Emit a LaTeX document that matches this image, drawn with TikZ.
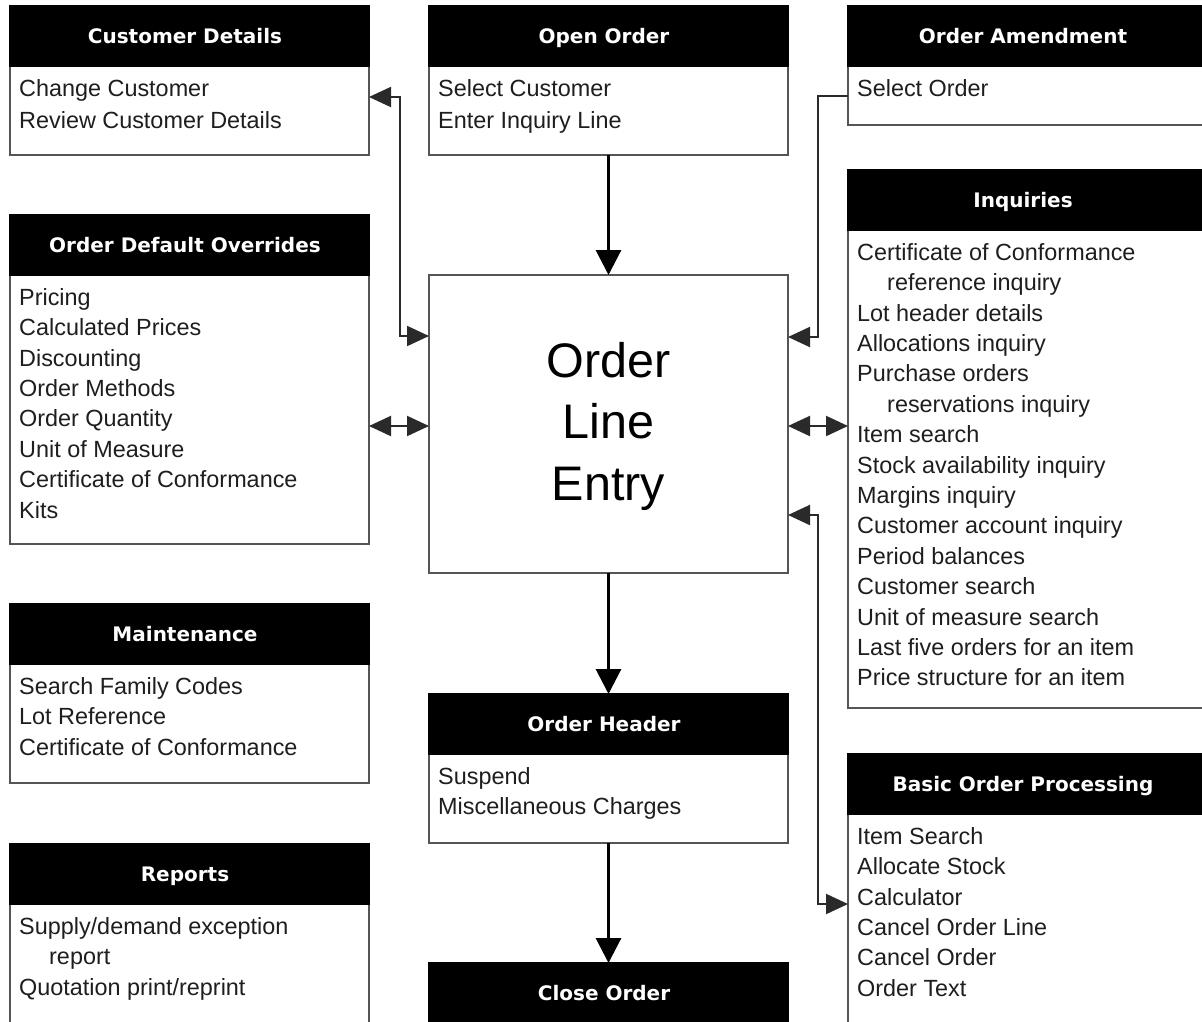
\documentclass[tikz,border=0pt]{standalone}
\usepackage{fontspec}
\setmainfont{Liberation Sans}
\newfontfamily\hdrfam{DejaVu Sans}
\usetikzlibrary{arrows.meta,calc}
\definecolor{bordergray}{HTML}{555555}
\definecolor{textgray}{HTML}{1E1E1E}
\definecolor{linegray}{HTML}{2A2A2A}
\newcommand\hdrtext{\hdrfam\bfseries\fontsize{20}{22}\selectfont}
\newcommand\itemtext{\fontsize{23.4}{30.4}\selectfont}
\newcommand\bigtext{\fontsize{48.5}{61.5}\selectfont}
\newcommand\fl{\rule{0pt}{17pt}}
\newcommand\ind{\hspace*{30pt}}
\begin{document}
\begin{tikzpicture}[x=1pt,y=-1pt,
 boxbody/.style={draw=bordergray, line width=2pt, minimum width=359pt, anchor=north west, inner sep=0pt, outer sep=0pt, fill=white},
 hdr/.style={fill=black, draw=black, line width=2pt, minimum width=359pt, minimum height=60pt, anchor=north, text=white, font=\hdrtext, inner sep=0pt, outer sep=0pt, text height=17pt, text depth=2pt, execute at end node={\hspace*{9pt}}},
 items/.style={anchor=north west, align=left, inner sep=0pt, font=\itemtext, text=textgray},
 conn/.style={draw=linegray, line width=2pt},
 oneway/.style={-{Triangle[length=22pt,width=20pt]}},
 twoway/.style={{Triangle[length=22pt,width=20pt]}-{Triangle[length=22pt,width=20pt]}},
 flow/.style={draw=black, line width=3pt, -{Triangle[length=25pt,width=25pt]}},
]
\useasboundingbox (0,0) rectangle (1202,1021);
\clip (0,0) rectangle (1202,1021);
\fill[white] (0,0) rectangle (1202,1021);

% left column
\node[boxbody, minimum height=149pt] (cust) at (10,6) {};
\node[hdr] (cust-h) at (cust.north) {Customer Details};
\node[items] (cust-t) at ($(cust.north west)+(9,73)$) {\fl Change Customer\\[1.5pt]Review Customer Details};

\node[boxbody, minimum height=329pt] (odo) at (10,215) {};
\node[hdr] (odo-h) at (odo.north) {Order Default Overrides};
\node[items] (odo-t) at ($(odo.north west)+(9,73)$) {\fl Pricing\\Calculated Prices\\Discounting\\Order Methods\\Order Quantity\\Unit of Measure\\Certificate of Conformance\\Kits};

\node[boxbody, minimum height=179pt] (maint) at (10,604) {};
\node[hdr] (maint-h) at (maint.north) {Maintenance};
\node[items] (maint-t) at ($(maint.north west)+(9,73)$) {\fl Search Family Codes\\Lot Reference\\Certificate of Conformance};

\node[boxbody, minimum height=200pt] (rep) at (10,844) {};
\node[hdr] (rep-h) at (rep.north) {Reports};
\node[items] (rep-t) at ($(rep.north west)+(9,73)$) {\fl Supply/demand exception\\\ind report\\Quotation print/reprint};

% middle column
\node[boxbody, minimum height=149pt] (open) at (429,6) {};
\node[hdr] (open-h) at (open.north) {Open Order};
\node[items] (open-t) at ($(open.north west)+(9,73)$) {\fl Select Customer\\[1.5pt]Enter Inquiry Line};

\node[boxbody, minimum height=298pt, align=center, font=\bigtext, text=black] (ole) at (429,275) {\rule{0pt}{40pt}Order\\Line\\Entry};

\node[boxbody, minimum height=149pt] (ohdr) at (429,694) {};
\node[hdr] (ohdr-h) at (ohdr.north) {Order Header};
\node[items] (ohdr-t) at ($(ohdr.north west)+(9,73)$) {\fl Suspend\\Miscellaneous Charges};

\node[boxbody, minimum height=80pt] (close) at (429,963) {};
\node[hdr] (close-h) at (close.north) {Close Order};

% right column
\node[boxbody, minimum height=119pt] (amend) at (848,6) {};
\node[hdr] (amend-h) at (amend.north) {Order Amendment};
\node[items] (amend-t) at ($(amend.north west)+(9,73)$) {\fl Select Order};

\node[boxbody, minimum height=538pt] (inq) at (848,170) {};
\node[hdr] (inq-h) at (inq.north) {Inquiries};
\node[items] (inq-t) at ($(inq.north west)+(9,73)$) {\fl Certificate of Conformance\\\ind reference inquiry\\Lot header details\\Allocations inquiry\\Purchase orders\\\ind reservations inquiry\\Item search\\Stock availability inquiry\\Margins inquiry\\Customer account inquiry\\Period balances\\Customer search\\Unit of measure search\\Last five orders for an item\\Price structure for an item};

\node[boxbody, minimum height=300pt] (bop) at (848,754) {};
\node[hdr] (bop-h) at (bop.north) {Basic Order Processing};
\node[items] (bop-t) at ($(bop.north west)+(9,73)$) {\fl Item Search\\Allocate Stock\\Calculator\\Cancel Order Line\\Cancel Order\\Order Text};

% connectors
\draw[flow] (open.south) -- (ole.north);
\draw[flow] (ole.south) -- (ohdr.north);
\draw[flow] (ohdr.south) -- (close.north);

\coordinate (c1) at ($(cust.north east)+(0,91)$);
\coordinate (c2) at ($(ole.north west)+(0,61)$);
\draw[conn, twoway] (c1) -- ++(31,0) |- (c2);

\coordinate (l1) at ($(ole.west)+(0,2)$);
\draw[conn, twoway] (odo.east |- l1) -- (l1);

\coordinate (a1) at ($(amend.north west)+(0,90)$);
\coordinate (a2) at ($(ole.north east)+(0,62)$);
\draw[conn, oneway] (a1) -- ++(-30,0) |- (a2);

\coordinate (r1) at ($(ole.east)+(0,2)$);
\draw[conn, twoway] (r1) -- (inq.west |- r1);

\coordinate (b1) at ($(ole.north east)+(0,240)$);
\coordinate (b2) at ($(bop.north west)+(0,150)$);
\draw[conn, twoway] (b1) -- ++(30,0) |- (b2);
\end{tikzpicture}
\end{document}
